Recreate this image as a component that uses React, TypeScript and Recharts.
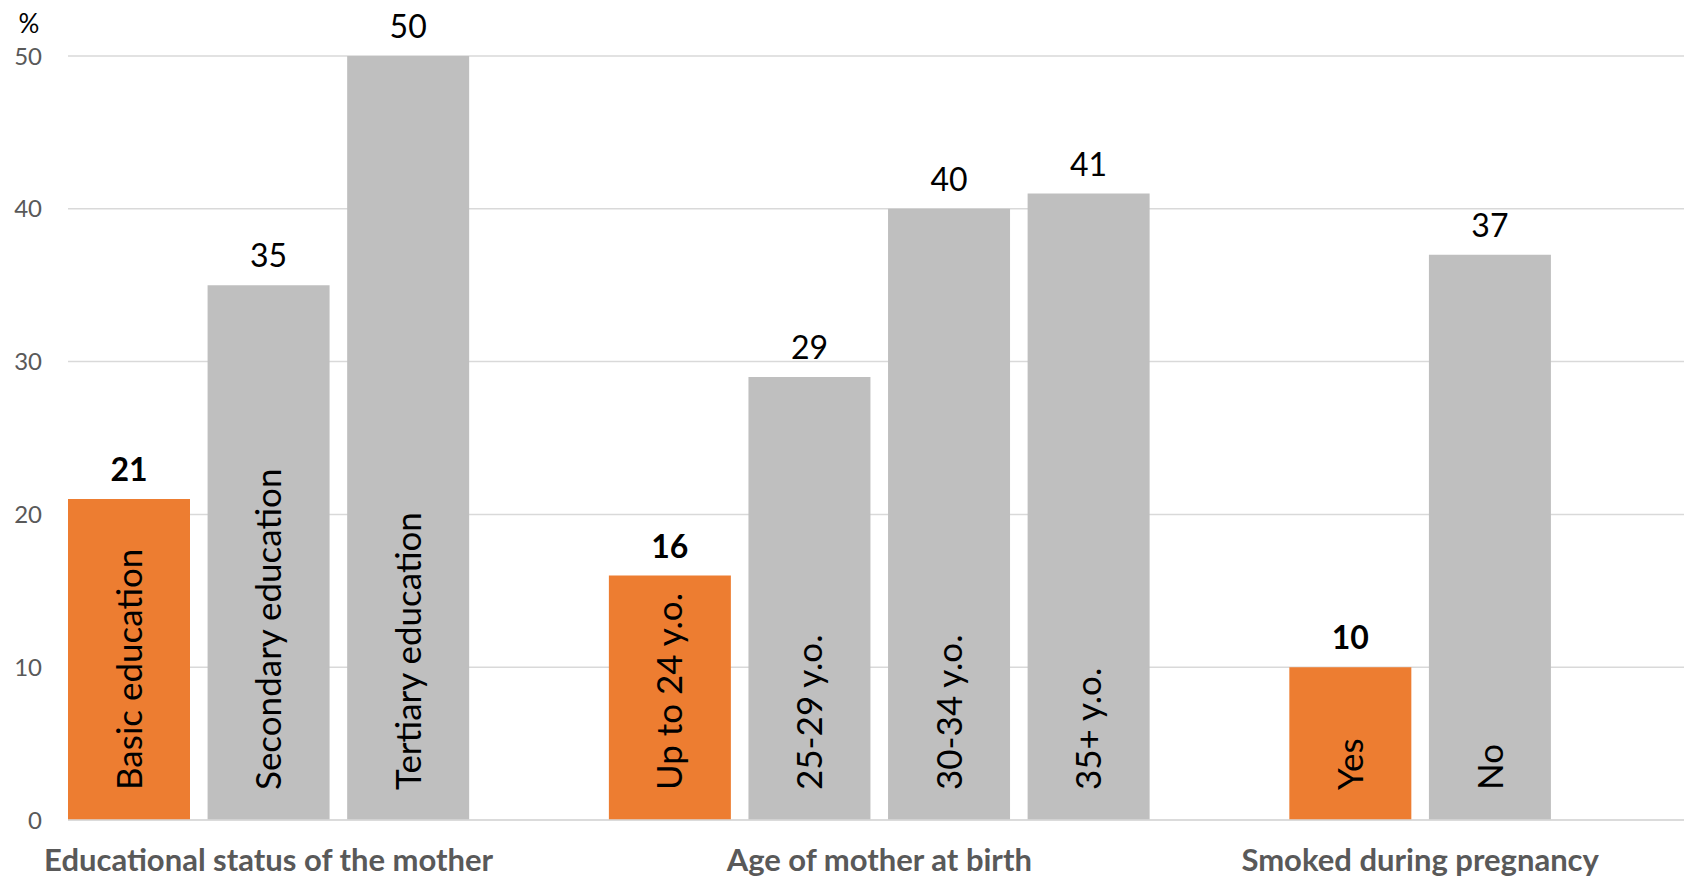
import React from 'react';
import { BarChart, Bar, XAxis, YAxis, CartesianGrid, Cell, LabelList } from 'recharts';

// group titles shown under the axis
const groupNames = ['Educational status of the mother', 'Age of mother at birth', 'Smoked during pregnancy'];

const educationLabels = ['Basic education', 'Secondary education', 'Tertiary education'];
const educationValues = [21, 35, 50];

const ageLabels = ['Up to 24 y.o.', '25-29 y.o.', '30-34 y.o.', '35+ y.o.'];
const ageValues = [16, 29, 40, 41];

const smokingLabels = ['Yes', 'No'];
const smokingValues = [10, 37];

const yTicks = [0, 10, 20, 30, 40, 50];

const ORANGE = '#ED7D31';
const GREY = '#BFBFBF';
const GRID = '#D9D9D9';
const AXIS_TEXT = '#595959';
const FONT = 'Lato, "Open Sans", sans-serif';

const BAR_SHARE = 0.875; // bar width as share of one slot
const GROUP_GAP = 0.875; // empty slots between groups
const X_MIN = -BAR_SHARE / 2;
const X_MAX = 11.14;

const groups = [
  { labels: educationLabels, values: educationValues },
  { labels: ageLabels, values: ageValues },
  { labels: smokingLabels, values: smokingValues },
];

type Row = { pos: number; value: number; label: string; highlight: boolean };

const rows: Row[] = [];
const groupTicks: number[] = [];
let slot = 0;
groups.forEach((g, gi) => {
  const start = slot + gi * GROUP_GAP;
  g.labels.forEach((label, i) => {
    rows.push({ pos: start + i, value: g.values[i], label, highlight: i === 0 });
  });
  groupTicks.push(start + (g.labels.length - 1) / 2);
  slot += g.labels.length;
});

const groupTitle = (v: number) => {
  const i = groupTicks.findIndex((t) => Math.abs(t - v) < 1e-6);
  return i >= 0 ? groupNames[i] : '';
};

const box = (props: any) => {
  const vb = props.viewBox || props;
  return { x: Number(vb.x), y: Number(vb.y), width: Number(vb.width), height: Number(vb.height) };
};

const ValueLabel = (props: any) => {
  const { x, y, width } = box(props);
  const row = rows[props.index];
  return (
    <text
      x={x + width / 2}
      y={y - 18}
      textAnchor="middle"
      fontFamily={FONT}
      fontSize={32}
      fontWeight={row && row.highlight ? 700 : 400}
      fill="#000"
    >
      {props.value}
    </text>
  );
};

const InsideLabel = (props: any) => {
  const { x, y, width, height } = box(props);
  const cx = x + width / 2;
  const by = y + height - 30;
  return (
    <text
      x={cx}
      y={by}
      transform={`rotate(-90 ${cx} ${by})`}
      textAnchor="start"
      dy="0.36em"
      fontFamily={FONT}
      fontSize={35}
      fill="#000"
    >
      {props.value}
    </text>
  );
};

export default function App() {
  return (
    <div style={{ position: 'absolute', left: 0, top: 0, width: 1684, height: 880, background: '#fff' }}>
      <BarChart
        width={1684}
        height={880}
        data={rows}
        margin={{ top: 56, right: 0, bottom: 0, left: 0 }}
        barCategoryGap={`${((1 - BAR_SHARE) / 2) * 100}%`}
      >
        <CartesianGrid vertical={false} stroke={GRID} strokeWidth={1.5} />
        <XAxis
          dataKey="pos"
          type="number"
          domain={[X_MIN, X_MAX]}
          allowDataOverflow
          ticks={groupTicks}
          interval={0}
          tickFormatter={groupTitle}
          tickLine={false}
          axisLine={{ stroke: GRID, strokeWidth: 1.5 }}
          tickMargin={23}
          height={60}
          tick={{ fill: AXIS_TEXT, fontSize: 31, fontWeight: 700, fontFamily: FONT }}
        />
        <YAxis
          domain={[0, 50]}
          ticks={yTicks}
          interval={0}
          width={68}
          tickLine={false}
          axisLine={false}
          tickMargin={20}
          tick={{ fill: AXIS_TEXT, fontSize: 24, fontFamily: FONT }}
          label={{ value: '%', position: 'top', offset: 23, dx: -5, fill: '#000', fontSize: 26, fontFamily: FONT }}
        />
        <Bar dataKey="value" isAnimationActive={false}>
          {rows.map((r, i) => (
            <Cell key={i} fill={r.highlight ? ORANGE : GREY} />
          ))}
          <LabelList dataKey="value" content={ValueLabel} />
          <LabelList dataKey="label" content={InsideLabel} />
        </Bar>
      </BarChart>
    </div>
  );
}
